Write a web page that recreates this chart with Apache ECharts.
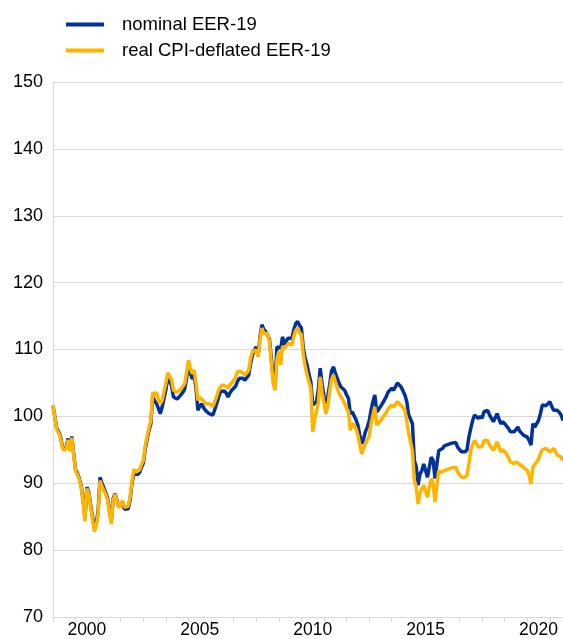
<!DOCTYPE html>
<html>
<head>
<meta charset="utf-8">
<script src="https://cdn.jsdelivr.net/npm/echarts@6/dist/echarts.min.js"></script>
<style>
html,body{margin:0;padding:0;background:#fff;}
#chart{width:563px;height:639px;}
</style>
</head>
<body>
<div id="chart"></div>
<script>
// Monthly observations, Jan 1999 .. Aug 2021
const startYear = 1999;
const monthCount = 272;
const labelYears = ['2000', '2005', '2010', '2015', '2020'];
const seriesNames = ['nominal EER-19', 'real CPI-deflated EER-19'];

const nominalEER19 = [
  101.6,101.6,98.2,97.7,97.0,95.5,95.1,95.4,96.7,95.0,97.0,94.4,
  92.0,91.5,90.7,89.6,87.5,84.8,89.4,88.7,86.8,85.0,83.3,84.0,
  86.0,90.9,90.0,89.3,88.6,87.8,86.0,84.5,87.8,88.4,88.4,86.5,
  86.8,87.2,86.1,86.1,86.2,87.6,90.1,91.4,91.2,91.3,91.6,92.4,
  93.0,95.1,96.6,97.9,98.9,102.9,102.3,101.9,101.2,100.4,101.4,101.5,
  104.0,105.9,106.1,104.6,102.9,102.7,102.6,102.9,103.1,103.6,104.1,105.7,
  107.6,106.5,105.6,106.2,104.2,100.9,101.5,101.9,101.3,100.9,100.8,100.4,
  100.4,100.2,100.3,101.9,102.9,103.7,103.8,103.8,103.5,102.9,103.5,103.9,
  104.0,104.5,105.2,105.7,105.9,105.7,105.4,105.8,106.2,107.9,109.2,109.2,
  110.4,109.2,111.9,113.7,113.0,112.7,112.9,111.6,108.7,105.7,105.0,110.4,
  110.6,110.2,111.9,110.7,111.3,111.7,111.5,111.7,113.0,113.9,114.2,113.6,
  113.2,110.2,108.7,107.7,106.3,105.2,101.7,101.6,102.2,104.0,107.2,104.8,
  103.0,101.9,103.0,104.7,106.8,107.4,106.5,105.7,105.0,104.4,104.2,103.9,
  103.2,102.7,100.4,100.7,100.8,99.5,98.7,97.2,95.9,96.6,97.7,98.4,
  99.3,100.9,102.2,103.2,100.7,101.0,101.2,101.9,102.4,102.9,103.6,103.4,
  104.2,103.9,104.1,105.0,104.7,104.4,103.8,103.2,102.2,100.2,99.6,98.9,
  93.4,92.5,89.7,91.4,91.9,92.9,92.7,90.9,92.5,93.9,93.4,90.7,
  92.9,94.9,94.9,95.2,95.6,95.7,95.8,95.7,96.0,96.2,96.1,95.4,
  95.2,94.7,94.9,94.7,95.0,96.9,98.2,99.4,100.2,100.0,99.7,100.0,
  99.7,100.7,100.9,100.9,100.2,99.7,99.2,99.8,100.4,99.6,98.9,99.2,
  98.9,98.7,98.2,97.7,97.6,97.7,98.0,98.4,97.8,97.7,97.2,97.0,
  96.9,96.4,95.7,98.9,98.4,98.2,99.4,100.4,101.7,101.7,101.6,101.7,
  102.2,101.5,100.9,100.7,100.9,100.6,100.2,99.4
];

const realCPIEER19 = [
  101.6,101.6,98.0,97.5,96.8,95.3,94.9,95.2,96.5,94.8,96.8,94.2,
  91.8,91.3,90.5,89.4,87.2,84.3,89.2,88.5,86.5,84.5,82.8,83.6,
  85.5,90.4,89.5,88.9,88.3,87.5,85.5,83.9,87.5,88.3,88.4,86.3,
  86.8,87.4,86.4,86.5,86.6,88.0,90.4,92.1,91.7,91.6,92.0,92.8,
  93.4,95.5,97.0,98.3,99.4,103.6,103.2,103.6,102.5,101.9,102.4,102.5,
  105.0,106.5,106.6,105.5,103.9,103.7,103.6,103.8,104.1,104.5,104.9,106.5,
  108.4,107.2,106.4,106.9,105.0,102.4,102.8,102.9,102.3,101.9,102.0,101.9,
  101.9,101.5,101.7,103.0,103.9,104.4,104.7,104.9,104.5,104.2,104.7,105.0,
  105.2,105.8,106.7,106.7,106.7,106.5,106.2,106.5,106.9,108.7,109.7,109.5,
  109.9,108.9,111.5,113.2,112.4,112.2,112.4,111.2,108.0,104.9,103.9,108.5,
  109.7,107.7,110.5,110.2,110.5,110.9,110.8,110.7,112.0,112.9,113.2,112.5,
  112.2,109.2,107.5,106.2,105.2,104.2,97.7,99.5,100.7,102.0,105.9,103.5,
  102.0,100.4,101.5,103.7,105.5,106.2,105.2,104.2,103.5,102.9,102.5,101.9,
  101.2,100.7,97.9,99.0,99.2,98.2,97.2,95.8,94.4,95.2,95.9,95.9,
  97.0,98.9,100.2,101.4,98.7,99.0,98.9,99.7,100.2,100.5,101.1,100.9,
  101.7,101.4,101.5,102.2,101.9,101.9,101.3,100.9,99.4,97.4,96.2,94.7,
  90.4,89.5,86.9,88.5,89.2,89.7,89.5,87.9,89.5,90.7,89.9,87.2,
  89.7,91.9,91.6,91.4,91.9,91.9,92.1,92.2,92.3,92.5,92.4,91.7,
  91.3,90.9,91.0,90.9,91.2,92.9,94.9,95.8,96.4,95.9,95.4,95.6,
  95.5,96.4,96.4,96.4,95.7,95.3,94.9,95.5,96.2,95.4,94.7,95.0,
  94.7,94.4,93.8,93.2,93.0,92.9,93.2,93.4,92.8,92.9,92.4,92.3,
  91.9,91.2,89.9,92.4,92.8,92.9,93.6,94.4,95.0,95.2,95.2,95.0,
  94.7,94.8,95.2,95.2,94.2,94.3,93.9,93.4
];

const months = [];
for (let i = 0; i < monthCount; i++) {
  const y = startYear + Math.floor(i / 12);
  const m = (i % 12) + 1;
  months.push(y + '-' + (m < 10 ? '0' + m : m));
}

const chart = echarts.init(document.getElementById('chart'), null, {renderer: 'canvas'});
const fontFamily = 'Liberation Sans, Arial, sans-serif';
const blue = '#003299';
const yellow = '#ffb400';
const grey = '#d9d9d9';

chart.setOption({
  animation: false,
  backgroundColor: '#ffffff',
  legend: [
    {
      data: [{name: seriesNames[0]}],
      left: 61, top: 10, icon: 'rect', itemWidth: 38, itemHeight: 4,
      textStyle: {fontFamily, fontSize: 18.5, color: '#000', lineHeight: 19, padding: [0,0,0,13]}
    },
    {
      data: [{name: seriesNames[1]}],
      left: 61, top: 36, icon: 'rect', itemWidth: 38, itemHeight: 4,
      textStyle: {fontFamily, fontSize: 18.5, color: '#000', lineHeight: 19, padding: [0,0,0,13]}
    }
  ],
  grid: {left: 53, right: 0, top: 82, bottom: 21, containLabel: false},
  xAxis: {
    type: 'category',
    data: months,
    boundaryGap: false,
    axisLine: {show: true, lineStyle: {color: grey, width: 1}},
    axisTick: {
      show: true, length: 5, lineStyle: {color: grey},
      interval: function (idx) { return idx % 12 === 0; }
    },
    axisLabel: {
      show: true,
      interval: function (idx, val) {
        return val.slice(5) === '07' && labelYears.indexOf(val.slice(0, 4)) >= 0;
      },
      formatter: function (val) { return val.slice(0, 4); },
      fontFamily, fontSize: 17.5, color: '#000', margin: 4
    },
    splitLine: {show: false}
  },
  yAxis: {
    type: 'value',
    min: 70, max: 150, interval: 10,
    axisLine: {show: true, lineStyle: {color: grey}},
    axisTick: {show: false},
    axisLabel: {fontFamily, fontSize: 18, color: '#000', margin: 10},
    splitLine: {show: true, lineStyle: {color: grey, width: 1}}
  },
  series: [
    {
      name: seriesNames[0], type: 'line', data: nominalEER19,
      showSymbol: false, symbol: 'none',
      lineStyle: {color: blue, width: 3.5}, itemStyle: {color: blue}
    },
    {
      name: seriesNames[1], type: 'line', data: realCPIEER19,
      showSymbol: false, symbol: 'none',
      lineStyle: {color: yellow, width: 3.5}, itemStyle: {color: yellow}
    }
  ]
});
</script>
</body>
</html>
